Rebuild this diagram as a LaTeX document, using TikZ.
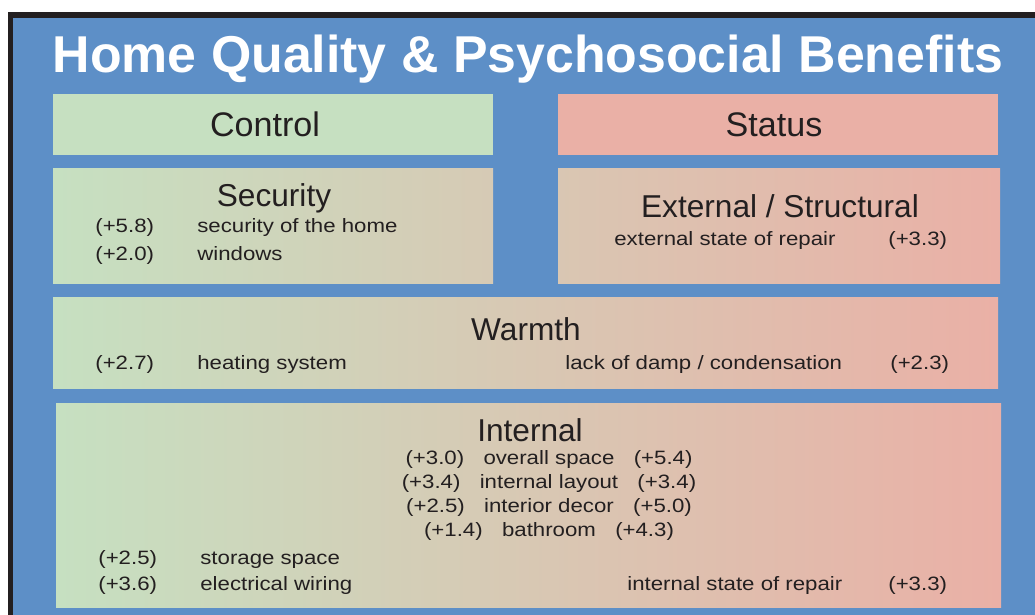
\documentclass[tikz,border=0pt]{standalone}
\usepackage{fontspec}
\setmainfont{Liberation Sans}
\newfontfamily\widefont[FakeStretch=1.15]{Liberation Sans}
\usetikzlibrary{fit}
\definecolor{planblue}{RGB}{93,143,199}
\definecolor{leafy}{RGB}{198,224,193}
\definecolor{rosy}{RGB}{234,176,166}
\definecolor{inkgray}{RGB}{35,31,32}

\begin{document}
\begin{tikzpicture}[x=0.02cm, y=-0.02cm,
        panel/.style={inner sep=0pt, outer sep=0pt},
        tint/.style 2 args={panel, left color=rosy!#1!leafy, right color=rosy!#2!leafy},
        bighead/.style={font=\fontsize{19.4}{22}\selectfont, text=inkgray, anchor=base, inner sep=0pt},
        subhead/.style={font=\fontsize{18}{20}\selectfont, text=inkgray, anchor=base, inner sep=0pt},
        item/.style={font=\widefont\fontsize{11}{12}\selectfont, text=inkgray, anchor=base west, inner sep=0pt},
        row/.style={item, anchor=base}]
    \clip (0,0) rectangle (1035,615);
    % frame
    \fill[inkgray] (8,12) rectangle (1045,625);
    \fill[planblue] (13,18) rectangle (1045,625);
    \node[font=\bfseries\fontsize{29.5}{32}\selectfont, text=white, anchor=base, inner sep=0pt]
        (title) at (528,73) {Home Quality \& Psychosocial Benefits};

    % column heads
    \node[panel, fill=leafy, fit={(53,94) (493,155)}] (control) {};
    \node[panel, fill=rosy, fit={(558,94) (998,155)}] (status) {};
    \node[bighead] (controlhead) at (265,136) {Control};
    \node[bighead] (statushead) at (774,136) {Status};

    % Security
    \node[tint={0}{46}, fit={(53,169) (493,283)}] (security) {};
    \node[subhead] (securityhead) at (274,206) {Security};
    \node[item] (sec1) at (95,233) {(+5.8)};
    \node[item] (sec1txt) at (197,233) {security of the home};
    \node[item] (sec2) at (95,260) {(+2.0)};
    \node[item] (sec2txt) at (197,260) {windows};

    % External / Structural
    \node[tint={53}{100}, fit={(558,169) (1000,283)}] (external) {};
    \node[subhead] (externalhead) at (780,217) {External / Structural};
    \node[item] (ext1txt) at (614,245) {external state of repair};
    \node[item] (ext1) at (888,245) {(+3.3)};

    % Warmth
    \node[tint={0}{100}, fit={(53,297) (998,388)}] (warmth) {};
    \node[subhead] (warmthhead) at (526,340) {Warmth};
    \node[item] (warm1) at (95,369) {(+2.7)};
    \node[item] (warm1txt) at (197,369) {heating system};
    \node[item] (warm2txt) at (565,369) {lack of damp / condensation};
    \node[item] (warm2) at (890,369) {(+2.3)};

    % Internal
    \node[tint={0}{100}, fit={(56,403) (1001,607)}] (internal) {};
    \node[subhead] (internalhead) at (530,441) {Internal};
    \node[row] (int1) at (549,464) {(+3.0)\hspace{11pt}overall space\hspace{11pt}(+5.4)};
    \node[row] (int2) at (549,488) {(+3.4)\hspace{11pt}internal layout\hspace{11pt}(+3.4)};
    \node[row] (int3) at (549,512) {(+2.5)\hspace{11pt}interior decor\hspace{11pt}(+5.0)};
    \node[row] (int4) at (549,536) {(+1.4)\hspace{11pt}bathroom\hspace{11pt}(+4.3)};
    \node[item] (int5) at (98,564) {(+2.5)};
    \node[item] (int5txt) at (200,564) {storage space};
    \node[item] (int6) at (98,590) {(+3.6)};
    \node[item] (int6txt) at (200,590) {electrical wiring};
    \node[item] (int7txt) at (627,590) {internal state of repair};
    \node[item] (int7) at (888,590) {(+3.3)};
\end{tikzpicture}
\end{document}
